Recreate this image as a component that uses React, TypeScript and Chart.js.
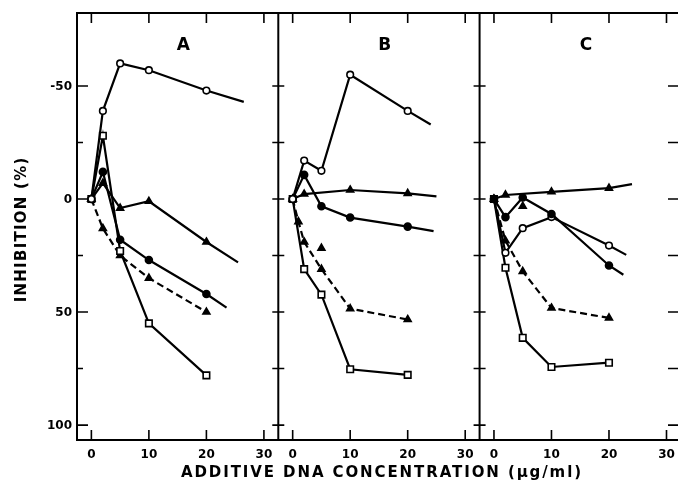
import React, { useEffect, useRef } from 'react';
import { Chart, registerables } from 'chart.js';

Chart.register(...registerables);

// ---- axis / tick data ----
const panelLabels = ['A', 'B', 'C'];
const panelSpan = 35; // x-units per panel (each panel runs -2.5 .. 32.5)
const xTickValues = [0, 10, 20, 30];
const yTickValues = [-50, -25, 0, 25, 50, 75, 100];
const yLabelValues = [-50, 0, 50, 100];
const xTitle = 'ADDITIVE DNA CONCENTRATION (\u03bcg/ml)';
const yTitle = 'INHIBITION (%)';

// ---- Panel A ----
const aConc = [0, 2, 5, 10, 20];
const aOpenCircle = [0, -39, -60, -57, -48];
const aOpenCircleTail = [26.5, -43];
const aFilledCircle = [0, -12, 18, 27, 42];
const aFilledCircleTail = [23.5, 48];
const aTriangle = [0, -7, 4, 1, 19];
const aTriangleTail = [25.5, 28];
const aTriangleDashed = [0, 13, 25, 35, 50];
const aOpenSquare = [0, -28, 23, 55, 78];

// ---- Panel B ----
const bConc = [0, 2, 5, 10, 20];
const bOpenCircle = [0, -17, -12.5, -55, -39];
const bOpenCircleTail = [24, -33];
const bFilledCircle = [0, -10.7, 3.2, 8.2, 12.2];
const bFilledCircleTail = [24.5, 14.2];
const bTriangleConc = [0, 2, 10, 20];
const bTriangle = [0, -2.2, -4, -2.5];
const bTriangleTail = [25, -1.2];
const bDashedConc = [0, 1, 2, 5, 10, 20];
const bTriangleDashed = [0, 10, 19, 31, 48.5, 53.3];
const bOpenSquare = [0, 31, 42.3, 75.3, 77.8];
const bLoneTriangle = [5, 21.7];

// ---- Panel C ----
const cConc = [0, 2, 5, 10, 20];
const cTriangleConc = [0, 2, 10, 20];
const cTriangle = [0, -1.8, -3.2, -4.8];
const cTriangleTail = [24, -6.6];
const cFilledCircle = [0, 8, -0.7, 6.6, 29.4];
const cFilledCircleTail = [22.5, 33.5];
const cOpenCircle = [0, 23.8, 12.9, 8, 20.6];
const cOpenCircleTail = [23, 24.7];
const cTriangleDashed = [0, 18.4, 32, 48.2, 52.6];
const cOpenSquare = [0, 30.4, 61.4, 74.3, 72.4];
const cLoneTriangle = [5, 3.2];

type Kind = 'openCircle' | 'filledCircle' | 'triangle' | 'triangleDashed' | 'openSquare';

function pts(panel: number, xs: number[], ys: number[], tail?: number[]) {
  const off = panel * panelSpan;
  const out: any[] = xs.map((xv, i) => ({ x: xv + off, y: ys[i] }));
  if (tail) out.push({ x: tail[0] + off, y: tail[1], tail: true });
  return out;
}

function ds(kind: Kind, data: any[], showLine = true) {
  const style: Record<Kind, any> = {
    openCircle: { pointStyle: 'circle', r: 3.3, bg: '#fff' },
    filledCircle: { pointStyle: 'circle', r: 3.5, bg: '#000' },
    triangle: { pointStyle: 'triangle', r: 4, bg: '#000' },
    triangleDashed: { pointStyle: 'triangle', r: 4, bg: '#000' },
    openSquare: { pointStyle: 'rect', r: 4.6, bg: '#fff' },
  };
  const s = style[kind];
  return {
    data,
    showLine,
    borderColor: '#000',
    borderWidth: 2.2,
    borderDash: kind === 'triangleDashed' ? [7, 4] : [],
    tension: 0,
    fill: false,
    pointStyle: s.pointStyle,
    pointRadius: (c: any) => (c.raw && c.raw.tail ? 0 : s.r),
    pointBackgroundColor: s.bg,
    pointBorderColor: '#000',
    pointBorderWidth: 1.6,
  };
}

const FONT = '"DejaVu Sans", "Liberation Sans", sans-serif';

const framePlugin = {
  id: 'frame',
  afterDraw(chart: any) {
    const { ctx, chartArea: ca, scales } = chart;
    const x = scales.x;
    const y = scales.y;
    ctx.save();
    ctx.strokeStyle = '#000';
    ctx.fillStyle = '#000';
    ctx.lineWidth = 2;
    // frame
    ctx.beginPath();
    ctx.moveTo(ca.right + 2, ca.top);
    ctx.lineTo(ca.left, ca.top);
    ctx.lineTo(ca.left, ca.bottom);
    ctx.lineTo(ca.right + 2, ca.bottom);
    ctx.stroke();
    // panel dividers
    const dividers = [1, 2].map((p) => x.getPixelForValue(p * panelSpan - 2.5));
    dividers.forEach((dx: number) => {
      ctx.beginPath();
      ctx.moveTo(dx, ca.top);
      ctx.lineTo(dx, ca.bottom);
      ctx.stroke();
    });
    // y ticks + labels
    ctx.lineWidth = 1.6;
    ctx.font = `bold 12px ${FONT}`;
    ctx.textAlign = 'right';
    ctx.textBaseline = 'middle';
    yTickValues.forEach((v) => {
      const py = y.getPixelForValue(v);
      const major = v % 50 === 0;
      ctx.beginPath();
      ctx.moveTo(ca.left, py);
      ctx.lineTo(ca.left + (major ? 11 : 6), py);
      dividers.forEach((dx: number) => {
        ctx.moveTo(dx - 6, py);
        ctx.lineTo(dx + 6, py);
      });
      ctx.moveTo(ca.right, py);
      ctx.lineTo(ca.right - 10, py);
      ctx.stroke();
      if (yLabelValues.includes(v)) ctx.fillText(String(v), ca.left - 5, py + 1);
    });
    // x ticks + labels
    ctx.textAlign = 'center';
    ctx.textBaseline = 'top';
    for (let p = 0; p < 3; p++) {
      xTickValues.forEach((t) => {
        const px = x.getPixelForValue(p * panelSpan + t);
        ctx.beginPath();
        ctx.moveTo(px, ca.bottom);
        ctx.lineTo(px, ca.bottom - 10);
        ctx.moveTo(px, ca.top);
        ctx.lineTo(px, ca.top + 10);
        ctx.stroke();
        ctx.fillText(String(t), px, ca.bottom + 9);
      });
    }
    // panel letters
    ctx.font = `bold 17px ${FONT}`;
    ctx.textAlign = 'center';
    ctx.textBaseline = 'middle';
    panelLabels.forEach((lab, p) => {
      ctx.fillText(lab, x.getPixelForValue(p * panelSpan + 16), y.getPixelForValue(-68));
    });
    // titles
    ctx.font = `bold 15px ${FONT}`;
    const drawSpaced = (text: string, target: number) => {
      (ctx as any).letterSpacing = '0px';
      const w = ctx.measureText(text).width;
      const sp = Math.max(0, (target - w) / text.length);
      (ctx as any).letterSpacing = `${sp}px`;
      const w2 = ctx.measureText(text).width;
      ctx.textAlign = 'left';
      ctx.fillText(text, -w2 / 2 + sp / 2, 0);
      (ctx as any).letterSpacing = '0px';
    };
    ctx.save();
    ctx.translate(381, 473);
    drawSpaced(xTitle, 402);
    ctx.restore();
    ctx.save();
    ctx.translate(22, 230);
    ctx.rotate(-Math.PI / 2);
    drawSpaced(yTitle, 146);
    ctx.restore();
    ctx.restore();
  },
};

export default function App() {
  const ref = useRef<HTMLCanvasElement | null>(null);
  useEffect(() => {
    document.body.style.margin = '0';
    const canvas = ref.current;
    if (!canvas) return;
    const datasets = [
      // Panel A
      ds('openCircle', pts(0, aConc, aOpenCircle, aOpenCircleTail)),
      ds('openSquare', pts(0, aConc, aOpenSquare)),
      ds('filledCircle', pts(0, aConc, aFilledCircle, aFilledCircleTail)),
      ds('triangle', pts(0, aConc, aTriangle, aTriangleTail)),
      ds('triangleDashed', pts(0, aConc, aTriangleDashed)),
      // Panel B
      ds('openCircle', pts(1, bConc, bOpenCircle, bOpenCircleTail)),
      ds('filledCircle', pts(1, bConc, bFilledCircle, bFilledCircleTail)),
      ds('triangle', pts(1, bTriangleConc, bTriangle, bTriangleTail)),
      ds('triangleDashed', pts(1, bDashedConc, bTriangleDashed)),
      ds('openSquare', pts(1, bConc, bOpenSquare)),
      ds('triangle', pts(1, [bLoneTriangle[0]], [bLoneTriangle[1]]), false),
      // Panel C
      ds('triangle', pts(2, cTriangleConc, cTriangle, cTriangleTail)),
      ds('filledCircle', pts(2, cConc, cFilledCircle, cFilledCircleTail)),
      ds('openCircle', pts(2, cConc, cOpenCircle, cOpenCircleTail)),
      ds('triangleDashed', pts(2, cConc, cTriangleDashed)),
      ds('openSquare', pts(2, cConc, cOpenSquare)),
      ds('triangle', pts(2, [cLoneTriangle[0]], [cLoneTriangle[1]]), false),
    ];
    const chart = new Chart(canvas, {
      type: 'scatter',
      data: { datasets: datasets as any },
      options: {
        animation: false,
        responsive: false,
        devicePixelRatio: 1,
        layout: { autoPadding: false, padding: { top: 13, right: 0, left: 77, bottom: 54 } },
        plugins: { legend: { display: false }, tooltip: { enabled: false } },
        scales: {
          x: { type: 'linear', display: false, min: -2.5, max: 102 },
          y: { type: 'linear', display: false, reverse: true, min: -82.3, max: 106.6 },
        },
      },
      plugins: [framePlugin],
    });
    return () => chart.destroy();
  }, []);
  return (
    <div style={{ width: 678, height: 494 }}>
      <canvas ref={ref} width={678} height={494} style={{ display: 'block' }} />
    </div>
  );
}
